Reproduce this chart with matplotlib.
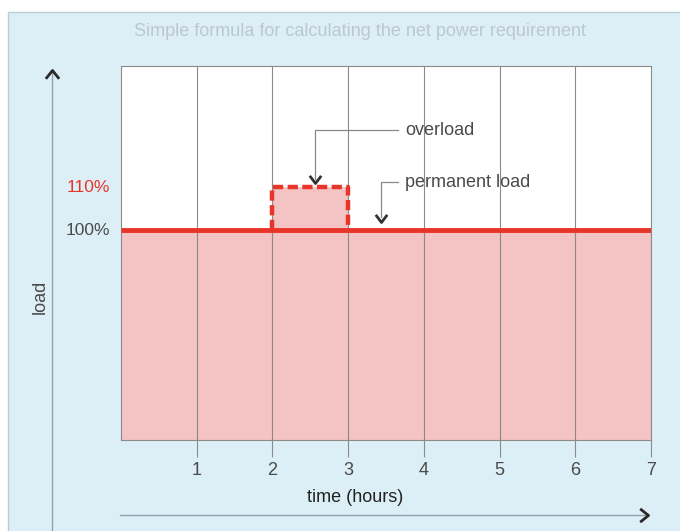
import matplotlib.pyplot as plt
from matplotlib import font_manager
from matplotlib.patches import Rectangle
from matplotlib.path import Path
from matplotlib.lines import Line2D

# data
hours = [0, 1, 2, 3, 4, 5, 6, 7]
permanent_load = [100, 100, 100, 100, 100, 100, 100, 100]
overload_start = 2
overload_end = 3
overload_level = 110
y_labels = ["100%", "110%"]

names = {f.name for f in font_manager.fontManager.ttflist}
fam = "Liberation Sans Narrow" if "Liberation Sans Narrow" in names else "Liberation Sans"
plt.rcParams["font.family"] = [fam, "DejaVu Sans"]

RED = "#e8352a"
PINK = "#f4c3c3"
GRID = "#8a8a8a"
TXT = "#4a4a4a"
BG = "#ddeff6"
AXLINE = "#8fa3b0"

# chevron heads
down = Path([(-0.75, 1), (0, 0), (0.75, 1)], [Path.MOVETO, Path.LINETO, Path.LINETO])
up = Path([(-0.8, -1), (0, 0), (0.8, -1)], [Path.MOVETO, Path.LINETO, Path.LINETO])
right = Path([(-1, 0.8), (0, 0), (-1, -0.8)], [Path.MOVETO, Path.LINETO, Path.LINETO])

fig = plt.figure(figsize=(6.8, 5.31), dpi=100)
fig.patch.set_facecolor("white")
# light blue panel
fig.patches.append(Rectangle((8 / 680, -0.01), 1, 1.01 - 12 / 531, transform=fig.transFigure,
                             facecolor=BG, edgecolor="#b8cfd8", lw=1, zorder=-10))
fig.text(360 / 680, 1 - 32 / 531, "Simple formula for calculating the net power requirement",
         ha="center", va="center", fontsize=13, color="#bcc8cd")

ax = fig.add_axes([121 / 680, 91 / 531, 530 / 680, 374 / 531])
ax.set_facecolor("white")
ax.set_xlim(0, 7)
ax.set_ylim(51.2, 138.2)

# fill below permanent load
ax.fill_between(hours, 0, permanent_load, color=PINK, lw=0, zorder=1)
ax.fill_between([overload_start, overload_end], 100, overload_level, color=PINK, lw=0, zorder=1)

# grid
for h in hours[1:-1]:
    ax.axvline(h, color=GRID, lw=0.8, zorder=2)

# permanent load line
ax.plot(hours, permanent_load, color=RED, lw=3.5, zorder=4, solid_capstyle="butt")
# overload box
ax.plot([overload_start, overload_start, overload_end, overload_end],
        [100, overload_level, overload_level, 100], color=RED, lw=3.2,
        ls=(0, (2.3, 1.0)), zorder=4)

for s in ax.spines.values():
    s.set_color(GRID)
    s.set_linewidth(0.8)

ax.set_xticks(hours[1:])
ax.set_xticklabels([str(h) for h in hours[1:]], fontsize=13, color=TXT)
ax.tick_params(axis="x", length=12, width=0.8, color=GRID, pad=4)
ax.set_yticks([])

# y labels
ax.text(-0.15, 100, y_labels[0], ha="right", va="center", fontsize=12.5, color=TXT)
ax.text(-0.15, 110, y_labels[1], ha="right", va="center", fontsize=12.5, color=RED)

# annotations
ax.plot([2.56, 2.56, 3.66], [112.0, 123.3, 123.3], color="#888", lw=0.9, zorder=5)
ax.plot([2.56], [111.0], marker=down, ms=11, mfc="none", mec="#333", mew=2.0, zorder=6)
ax.text(3.75, 123.3, "overload", ha="left", va="center", fontsize=13, color=TXT)

ax.plot([3.43, 3.43, 3.66], [103.0, 111.2, 111.2], color="#888", lw=0.9, zorder=5)
ax.plot([3.43], [102.0], marker=down, ms=11, mfc="none", mec="#333", mew=2.0, zorder=6)
ax.text(3.75, 111.2, "permanent load", ha="left", va="center", fontsize=13, color=TXT)

# outer axis arrows
fig.lines.append(Line2D([52 / 680, 52 / 680], [0, 1 - 72 / 531], transform=fig.transFigure,
                        color=AXLINE, lw=1.0))
fig.lines.append(Line2D([52 / 680], [1 - 70 / 531], transform=fig.transFigure,
                        marker=up, ms=12, mfc="none", mec="#2a2a2a", mew=2.0, ls="none"))
fig.lines.append(Line2D([120 / 680, 646 / 680], [1 - 515 / 531, 1 - 515 / 531],
                        transform=fig.transFigure, color=AXLINE, lw=1.0))
fig.lines.append(Line2D([648 / 680], [1 - 515 / 531], transform=fig.transFigure,
                        marker=right, ms=12, mfc="none", mec="#2a2a2a", mew=2.0, ls="none"))
fig.text(40 / 680, 1 - 297 / 531, "load", rotation=90, ha="center", va="center",
         fontsize=13, color=TXT)
fig.text(355 / 680, 1 - 497 / 531, "time (hours)", ha="center", va="center",
         fontsize=13, color="#222")

fig.savefig("out.png", dpi=100)
